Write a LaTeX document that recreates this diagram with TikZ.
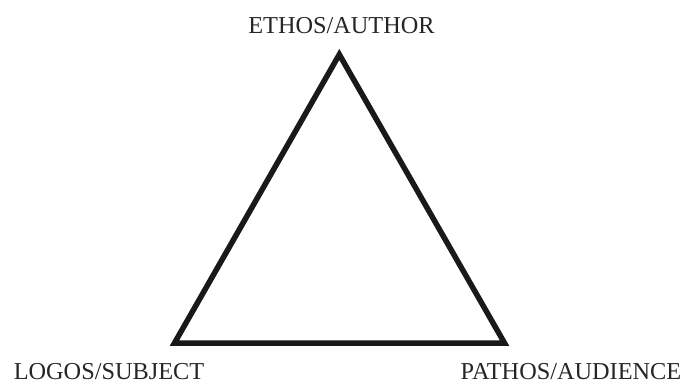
\documentclass[tikz,border=0pt]{standalone}
\usepackage{fontspec}
\setmainfont{Liberation Serif}
\begin{document}
\begin{tikzpicture}[x=1pt,y=-1pt,
  lbl/.style={inner sep=0pt,anchor=base,font=\fontsize{24.3}{28}\selectfont,text=black!85},
  edge/.style={line width=5.5pt,line join=miter,black!90}]
\useasboundingbox (0,0) rectangle (686,383);
\coordinate (A) at (339.3,54.5);
\coordinate (L) at (174.5,343);
\coordinate (R) at (504.5,343);
\draw[edge] (A) -- (L) -- (R) -- cycle;
\node[lbl] (ethos) at (341.5,33) {ETHOS/AUTHOR};
\node[lbl] (logos) at (109,379) {LOGOS/SUBJECT};
\node[lbl] (pathos) at (571,379) {PATHOS/AUDIENCE};
\end{tikzpicture}
\end{document}
